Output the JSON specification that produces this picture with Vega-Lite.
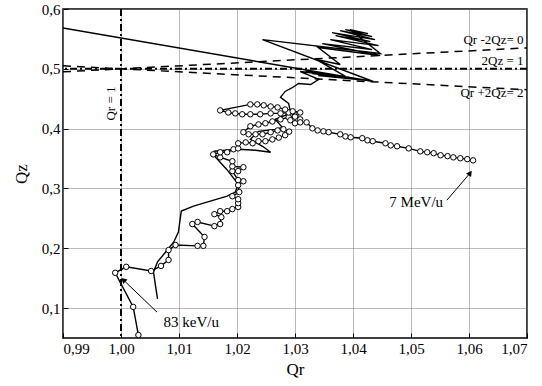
{
  "$schema": "https://vega.github.io/schema/vega-lite/v6.json",
  "width": 464,
  "height": 329,
  "autosize": "none",
  "padding": {"left": 63, "top": 9, "right": 15, "bottom": 48},
  "background": "white",
  "config": {
    "font": "Liberation Serif",
    "view": {"stroke": "black", "strokeWidth": 1.5},
    "axis": {
      "labelFont": "Liberation Serif",
      "titleFont": "Liberation Serif",
      "labelFontSize": 15,
      "titleFontSize": 17,
      "titleFontWeight": "normal",
      "labelColor": "black",
      "titleColor": "black",
      "domain": false,
      "gridColor": "#777",
      "gridDash": [1, 1],
      "gridWidth": 1,
      "tickColor": "black",
      "tickSize": -5
    }
  },
  "datasets": {
    "circ": [
      {"i":1,"qr":1.0030,"qz":0.055},{"i":2,"qr":1.0021,"qz":0.102},{"i":3,"qr":0.9990,"qz":0.159},{"i":4,"qr":1.0009,"qz":0.169},
      {"i":5,"qr":1.0052,"qz":0.162},{"i":6,"qr":1.0069,"qz":0.1705},{"i":7,"qr":1.0082,"qz":0.1805},{"i":8,"qr":1.0082,"qz":0.197},
      {"i":9,"qr":1.0094,"qz":0.2055},{"i":10,"qr":1.0132,"qz":0.204},{"i":11,"qr":1.0142,"qz":0.204},{"i":12,"qr":1.0144,"qz":0.219},
      {"i":13,"qr":1.0123,"qz":0.2405},{"i":14,"qr":1.0132,"qz":0.244},{"i":15,"qr":1.0161,"qz":0.237},{"i":16,"qr":1.0171,"qz":0.2405},
      {"i":17,"qr":1.0173,"qz":0.252},{"i":18,"qr":1.0161,"qz":0.257},{"i":19,"qr":1.0171,"qz":0.262},{"i":20,"qr":1.0183,"qz":0.262},
      {"i":21,"qr":1.0192,"qz":0.2655},{"i":22,"qr":1.0202,"qz":0.269},{"i":23,"qr":1.0202,"qz":0.2755},{"i":24,"qr":1.0202,"qz":0.282},
      {"i":25,"qr":1.0192,"qz":0.287},{"i":26,"qr":1.0204,"qz":0.294},{"i":27,"qr":1.0202,"qz":0.3055},{"i":28,"qr":1.0211,"qz":0.312},
      {"i":29,"qr":1.0202,"qz":0.314},{"i":30,"qr":1.0192,"qz":0.329},{"i":31,"qr":1.0202,"qz":0.329},{"i":32,"qr":1.0211,"qz":0.3355},
      {"i":33,"qr":1.0192,"qz":0.337},{"i":34,"qr":1.0192,"qz":0.3455},{"i":35,"qr":1.0171,"qz":0.352},{"i":36,"qr":1.0159,"qz":0.357},
      {"i":37,"qr":1.0171,"qz":0.3605},{"i":38,"qr":1.0183,"qz":0.3605},{"i":39,"qr":1.0194,"qz":0.3655},{"i":40,"qr":1.0202,"qz":0.367},
      {"i":41,"qr":1.0202,"qz":0.3755},{"i":42,"qr":1.0215,"qz":0.377},{"i":43,"qr":1.0227,"qz":0.3755},{"i":44,"qr":1.0237,"qz":0.379},
      {"i":45,"qr":1.0249,"qz":0.379},{"i":46,"qr":1.0261,"qz":0.382},
      {"i":46.1,"qr":1.0272,"qz":0.385},{"i":46.2,"qr":1.0283,"qz":0.389},{"i":46.3,"qr":1.0290,"qz":0.395},{"i":46.4,"qr":1.0280,"qz":0.399},{"i":46.5,"qr":1.0270,"qz":0.397},
      {"i":47,"qr":1.0258,"qz":0.394},{"i":48,"qr":1.0244,"qz":0.3905},
      {"i":49,"qr":1.0232,"qz":0.3905},{"i":50,"qr":1.0220,"qz":0.3905},{"i":51,"qr":1.0211,"qz":0.394},{"i":52,"qr":1.0223,"qz":0.404},
      {"i":53,"qr":1.0237,"qz":0.407},{"i":54,"qr":1.0249,"qz":0.409},{"i":55,"qr":1.0261,"qz":0.412},{"i":56,"qr":1.0275,"qz":0.4155},
      {"i":57,"qr":1.0289,"qz":0.419},{"i":58,"qr":1.0301,"qz":0.422},{"i":59,"qr":1.0289,"qz":0.427},{"i":60,"qr":1.0275,"qz":0.4255},
      {"i":61,"qr":1.0258,"qz":0.4255},{"i":62,"qr":1.0240,"qz":0.424},{"i":63,"qr":1.0223,"qz":0.424},{"i":64,"qr":1.0209,"qz":0.424},
      {"i":65,"qr":1.0197,"qz":0.4255},{"i":66,"qr":1.0185,"qz":0.427},{"i":67,"qr":1.0171,"qz":0.4305},{"i":68,"qr":1.0223,"qz":0.4405},
      {"i":69,"qr":1.0235,"qz":0.4405},{"i":70,"qr":1.0246,"qz":0.439},{"i":71,"qr":1.0258,"qz":0.437},{"i":72,"qr":1.0270,"qz":0.4355},
      {"i":73,"qr":1.0283,"qz":0.432},{"i":74,"qr":1.0296,"qz":0.429},{"i":75,"qr":1.0309,"qz":0.427},
      {"i":75.1,"qr":1.0300,"qz":0.420},{"i":75.2,"qr":1.0292,"qz":0.414},{"i":75.3,"qr":1.0300,"qz":0.409},
      {"i":76,"qr":1.0309,"qz":0.4155},
      {"i":77,"qr":1.0309,"qz":0.4105},{"i":78,"qr":1.0320,"qz":0.4105},{"i":79,"qr":1.0330,"qz":0.4005},{"i":80,"qr":1.0339,"qz":0.397},
      {"i":81,"qr":1.0349,"qz":0.3955},{"i":82,"qr":1.0358,"qz":0.394},{"i":83,"qr":1.0378,"qz":0.3905},{"i":84,"qr":1.0387,"qz":0.387},
      {"i":85,"qr":1.0396,"qz":0.3855},{"i":86,"qr":1.0416,"qz":0.384},{"i":87,"qr":1.0425,"qz":0.3805},{"i":88,"qr":1.0434,"qz":0.379},
      {"i":89,"qr":1.0456,"qz":0.3755},{"i":90,"qr":1.0465,"qz":0.372},{"i":91,"qr":1.0476,"qz":0.3705},{"i":92,"qr":1.0496,"qz":0.367},
      {"i":93,"qr":1.0516,"qz":0.362},{"i":94,"qr":1.0528,"qz":0.3605},{"i":95,"qr":1.0539,"qz":0.359},{"i":96,"qr":1.0551,"qz":0.3555},
      {"i":97,"qr":1.0563,"qz":0.354},{"i":98,"qr":1.0573,"qz":0.352},{"i":99,"qr":1.0585,"qz":0.3505},{"i":100,"qr":1.0597,"qz":0.349},
      {"i":101,"qr":1.0607,"qz":0.347}
    ],
    "solid": [
      {"i":1,"qr":1.0063,"qz":0.1155},{"i":2,"qr":1.0059,"qz":0.1405},{"i":3,"qr":1.0056,"qz":0.1605},{"i":4,"qr":1.0063,"qz":0.1772},
      {"i":5,"qr":1.0077,"qz":0.1938},{"i":6,"qr":1.0091,"qz":0.2105},{"i":7,"qr":1.0099,"qz":0.2272},{"i":8,"qr":1.0102,"qz":0.2488},
      {"i":9,"qr":1.0104,"qz":0.2622},{"i":10,"qr":1.0125,"qz":0.2705},{"i":11,"qr":1.0154,"qz":0.2788},{"i":12,"qr":1.0183,"qz":0.2872},
      {"i":13,"qr":1.0197,"qz":0.2938},{"i":14,"qr":1.0202,"qz":0.3072},{"i":15,"qr":1.0182,"qz":0.3322},{"i":16,"qr":1.0163,"qz":0.3522},
      {"i":17,"qr":1.0161,"qz":0.3622},{"i":18,"qr":1.0202,"qz":0.3655},{"i":19,"qr":1.0232,"qz":0.3638},{"i":20,"qr":1.0258,"qz":0.3605},
      {"i":21,"qr":1.0244,"qz":0.3705},{"i":22,"qr":1.0223,"qz":0.3822},{"i":23,"qr":1.0237,"qz":0.3955},{"i":24,"qr":1.0266,"qz":0.3988},
      {"i":25,"qr":1.0278,"qz":0.4022},{"i":26,"qr":1.0266,"qz":0.4155},{"i":27,"qr":1.0283,"qz":0.4222},{"i":28,"qr":1.0292,"qz":0.4288},
      {"i":29,"qr":1.0289,"qz":0.4422},{"i":30,"qr":1.0275,"qz":0.4522},{"i":31,"qr":1.0283,"qz":0.4622},{"i":32,"qr":1.0296,"qz":0.4688},
      {"i":33,"qr":1.0306,"qz":0.4755},{"i":34,"qr":1.0327,"qz":0.4738},{"i":35,"qr":1.0341,"qz":0.4822},
      {"i":36,"qr":1.0309,"qz":0.4955},{"i":37,"qr":1.0395,"qz":0.4855},{"i":38,"qr":1.0318,"qz":0.4972},{"i":39,"qr":1.0413,"qz":0.4822},
      {"i":40,"qr":1.0330,"qz":0.4922},{"i":41,"qr":1.0426,"qz":0.4805},{"i":42,"qr":1.0340,"qz":0.4888},{"i":43,"qr":1.0387,"qz":0.4872},
      {"i":44,"qr":1.0337,"qz":0.5155},{"i":45,"qr":1.0378,"qz":0.5072},
      {"i":46,"qr":1.0340,"qz":0.5355},{"i":47,"qr":1.0447,"qz":0.5222},{"i":48,"qr":1.0347,"qz":0.5422},{"i":49,"qr":1.0433,"qz":0.5322},
      {"i":50,"qr":1.0361,"qz":0.5488},{"i":51,"qr":1.0444,"qz":0.5388},{"i":52,"qr":1.0370,"qz":0.5555},{"i":53,"qr":1.0430,"qz":0.5455},
      {"i":54,"qr":1.0364,"qz":0.5605},{"i":55,"qr":1.0438,"qz":0.5488},{"i":56,"qr":1.0378,"qz":0.5638},{"i":57,"qr":1.0433,"qz":0.5538},
      {"i":58,"qr":1.0387,"qz":0.5655},{"i":59,"qr":1.0426,"qz":0.5588},{"i":60,"qr":1.0395,"qz":0.5655},
      {"i":61,"qr":1.0447,"qz":0.5255},{"i":62,"qr":1.0244,"qz":0.5488},{"i":63,"qr":1.0435,"qz":0.4788},{"i":64,"qr":0.9900,"qz":0.5683}
    ],
    "res": [
      {"line":"a","qr":0.99,"qz":0.495},{"line":"a","qr":1.07,"qz":0.535},
      {"line":"b","qr":0.99,"qz":0.505},{"line":"b","qr":1.07,"qz":0.465}
    ],
    "reslabels": [
      {"text":"Qr -2Qz= 0","qr":1.0694,"qz":0.549},
      {"text":"2Qz = 1","qr":1.0694,"qz":0.513},
      {"text":"Qr +2Qz= 2","qr":1.0694,"qz":0.460}
    ],
    "energy": [
      {"text":"7 MeV/u","qr":1.0509,"qz":0.277},
      {"text":"83 keV/u","qr":1.0121,"qz":0.077}
    ],
    "arrows": [
      {"qr":1.0562,"qz":0.2805,"qr2":1.0602,"qz2":0.3258},
      {"qr":1.0062,"qz":0.0933,"qr2":1.0004,"qz2":0.1472}
    ]
  },
  "encoding": {
    "x": {"field": "qr", "type": "quantitative", "title": "Qr",
      "scale": {"domain": [0.99, 1.07], "nice": false, "zero": false},
      "axis": {"values": [0.99, 1.0, 1.01, 1.02, 1.03, 1.04, 1.05, 1.06, 1.07],
        "labelExpr": "replace(format(datum.value, '.2f'), '.', ',')",
        "labelPadding": 8, "titlePadding": 5, "grid": true}},
    "y": {"field": "qz", "type": "quantitative", "title": "Qz",
      "scale": {"domain": [0.05, 0.6], "nice": false, "zero": false},
      "axis": {"values": [0.1, 0.2, 0.3, 0.4, 0.5, 0.6],
        "labelExpr": "replace(format(datum.value, '.1f'), '.', ',')",
        "labelPadding": 8, "titlePadding": 11, "grid": true}}
  },
  "layer": [
    {"data": {"values": [{"v": 1.0}]}, "mark": {"type": "rule", "stroke": "black", "strokeWidth": 2, "strokeDash": [7, 3, 2, 3]},
      "encoding": {"x": {"field": "v", "type": "quantitative"}, "y": null}},
    {"data": {"values": [{"v": 0.5}]}, "mark": {"type": "rule", "stroke": "black", "strokeWidth": 2, "strokeDash": [7, 3, 2, 3]},
      "encoding": {"y": {"field": "v", "type": "quantitative"}, "x": null}},
    {"data": {"name": "res"}, "mark": {"type": "line", "stroke": "black", "strokeWidth": 1.5, "strokeDash": [8, 6]},
      "encoding": {"detail": {"field": "line"}}},
    {"data": {"name": "solid"}, "mark": {"type": "line", "stroke": "black", "strokeWidth": 1.4, "clip": true},
      "encoding": {"order": {"field": "i", "type": "quantitative"}}},
    {"data": {"name": "circ"}, "mark": {"type": "line", "stroke": "black", "strokeWidth": 1.4, "clip": true},
      "encoding": {"order": {"field": "i", "type": "quantitative"}}},
    {"data": {"name": "circ"}, "mark": {"type": "point", "shape": "circle", "filled": true, "fill": "white", "stroke": "black", "strokeWidth": 1, "size": 30, "opacity": 1, "clip": true}},
    {"data": {"name": "arrows"}, "mark": {"type": "rule", "stroke": "black", "strokeWidth": 1},
      "encoding": {"x2": {"field": "qr2"}, "y2": {"field": "qz2"}}},
    {"data": {"values": [{"qr": 1.0602, "qz": 0.3258}]}, "mark": {"type": "point", "shape": "triangle-up", "filled": true, "color": "black", "size": 40, "angle": 36, "opacity": 1}},
    {"data": {"values": [{"qr": 1.0004, "qz": 0.1472}]}, "mark": {"type": "point", "shape": "triangle-up", "filled": true, "color": "black", "size": 40, "angle": 313, "opacity": 1}},
    {"data": {"name": "reslabels"}, "mark": {"type": "text", "align": "right", "baseline": "middle", "fontSize": 13, "font": "Liberation Serif", "color": "black"},
      "encoding": {"text": {"field": "text"}}},
    {"data": {"name": "energy"}, "mark": {"type": "text", "align": "center", "baseline": "middle", "fontSize": 15, "font": "Liberation Serif", "color": "black"},
      "encoding": {"text": {"field": "text"}}},
    {"data": {"values": [{"text": "Qr = 1", "qr": 0.9982, "qz": 0.442}]}, "mark": {"type": "text", "align": "center", "baseline": "middle", "angle": 270, "fontSize": 13, "font": "Liberation Serif", "color": "black"},
      "encoding": {"text": {"field": "text"}}}
  ]
}
